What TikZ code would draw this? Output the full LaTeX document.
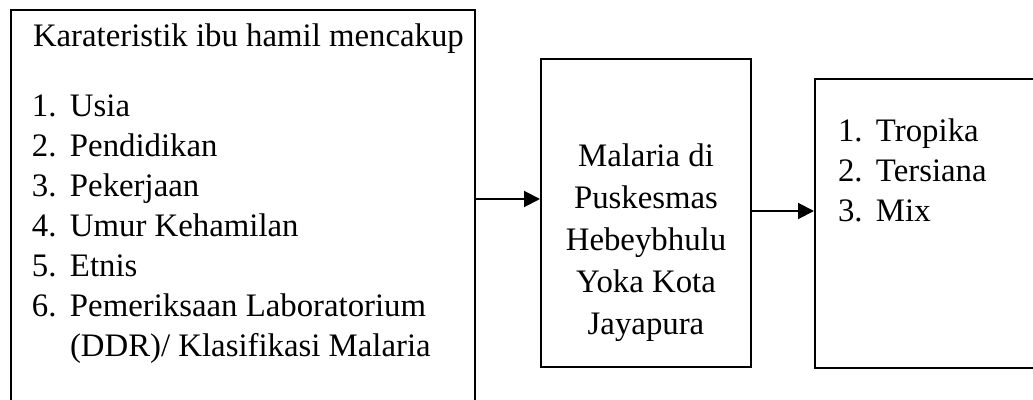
\documentclass[tikz,border=0pt]{standalone}
\usepackage{fontspec}
\setmainfont{Liberation Serif}
\usetikzlibrary{arrows.meta, positioning}
\tikzset{
    framework/.style={>={Triangle[length=8pt, width=8pt]}, line width=1pt, x=0.5pt, y=-0.5pt},
    box/.style={draw, line width=1pt, rectangle, inner sep=0pt},
    txt/.style={anchor=base west, inner sep=0pt, font=\fontsize{16.4}{19}\selectfont},
    midtxt/.style={align=center, inner sep=0pt, font=\fontsize{16.4}{21}\selectfont},
}
\newcommand{\num}[1]{\makebox[19pt][l]{#1}}

\begin{document}
\begin{tikzpicture}[framework]
    \useasboundingbox (0,0) rectangle (1033,400);
    \clip (0,0) rectangle (1033,400);
    \node[box, minimum width=232pt, minimum height=200pt]   (lbox) at (243,210)   {};
    \node[box, minimum width=105pt, minimum height=154pt]   (mbox) at (646,213)   {};
    \node[box, minimum width=115pt, minimum height=144.5pt] (rbox) at (930,223.5) {};

    % karakteristik
    \node[txt] (ttl) at (32,47)  {Karateristik ibu hamil mencakup};
    \node[txt] (l1)  at (31,117) {\num{1.}Usia};
    \node[txt] (l2)  at (31,157) {\num{2.}Pendidikan};
    \node[txt] (l3)  at (31,197) {\num{3.}Pekerjaan};
    \node[txt] (l4)  at (31,237) {\num{4.}Umur Kehamilan};
    \node[txt] (l5)  at (31,277) {\num{5.}Etnis};
    \node[txt] (l6)  at (31,317) {\num{6.}Pemeriksaan Laboratorium};
    \node[txt] (l6b) at (69,357) {(DDR)/ Klasifikasi Malaria};

    \node[midtxt] (mtxt) at (646,243) {Malaria di\\Puskesmas\\Hebeybhulu\\Yoka Kota\\Jayapura};

    % jenis malaria
    \node[txt] (r1) at (837,142) {\num{1.}Tropika};
    \node[txt] (r2) at (837,182) {\num{2.}Tersiana};
    \node[txt] (r3) at (837,222) {\num{3.}Mix};

    \coordinate (a1) at (0,199);
    \coordinate (a2) at (0,211);
    \draw[->] (lbox.east |- a1) -- (mbox.west |- a1);
    \draw[->] (mbox.east |- a2) -- (rbox.west |- a2);
\end{tikzpicture}
\end{document}
